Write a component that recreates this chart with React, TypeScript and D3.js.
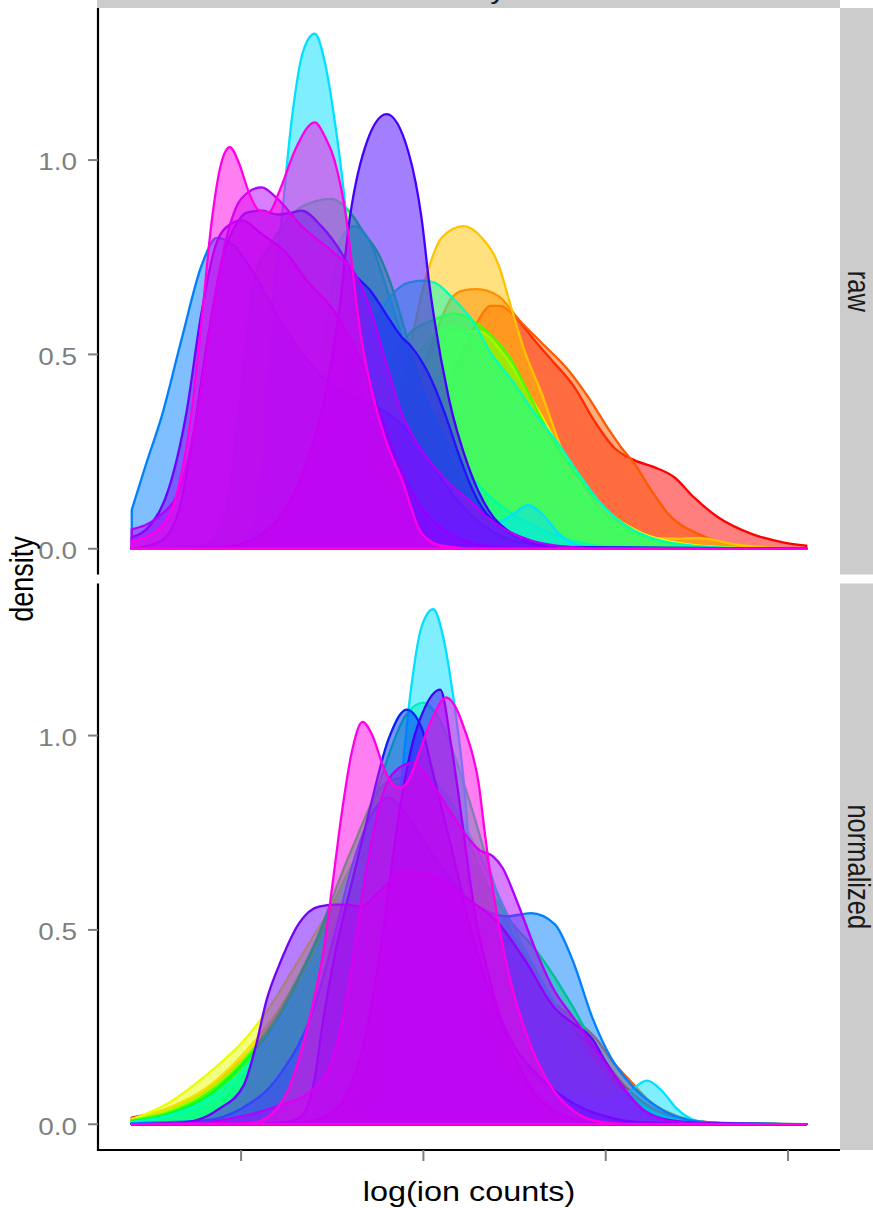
import React from "react";
import * as d3 from "d3";

type Pt = [number, number];

// one colour per sample (rainbow order, drawn in this order)
const sampleColors = [
  "#FF0000", "#FF5A00", "#FFC400", "#E8FF00", "#A0FF00", "#48FF00", "#00FF30", "#00FF80",
  "#00FFBB", "#00E0FF", "#0080FF", "#0022FF", "#4400FF", "#7000FF", "#B000FF", "#FF00E6",
];

const xTicks = [5, 10, 15, 20];
const yTicks = [0, 0.5, 1.0];
const columnLabel = "study";
const rowLabels = ["raw", "normalized"];
const xTitle = "log(ion counts)";
const yTitle = "density";

// density curves: [log(ion counts), density]
const rawDensities: Pt[][] = [
  [[2,0],[6.5,0.002],[7.5,0.01],[8.5,0.05],[9.4,0.15],[10.2,0.3],[10.8,0.45],[11.4,0.57],[11.85,0.625],[12.1,0.625],[12.41,0.607],[13.04,0.537],[13.51,0.486],[14.14,0.416],[14.68,0.33],[15.23,0.26],[15.78,0.228],[16.33,0.21],[16.88,0.184],[17.42,0.132],[18.08,0.081],[18.98,0.039],[19.89,0.016],[20.5,0.008]],
  [[2,0],[7,0.002],[7.8,0.01],[8.6,0.06],[9.2,0.18],[9.6,0.32],[10,0.46],[10.4,0.57],[10.77,0.645],[11.1,0.665],[11.46,0.668],[12.06,0.65],[12.61,0.59],[13.24,0.53],[13.97,0.46],[14.52,0.39],[15.06,0.31],[15.43,0.26],[15.78,0.22],[16.25,0.15],[16.71,0.09],[17.61,0.035],[18.52,0.01],[19.5,0.002],[20.5,0]],
  [[2,0],[7.5,0.005],[8.5,0.08],[9.2,0.3],[9.7,0.55],[10.14,0.72],[10.5,0.8],[11.1,0.83],[11.6,0.8],[12.06,0.73],[12.41,0.62],[12.77,0.51],[13.24,0.4],[13.78,0.26],[14.33,0.16],[14.87,0.09],[15.6,0.04],[16.2,0.027],[17,0.026],[17.6,0.027],[18.5,0.012],[19.5,0.003],[20.5,0]],
  [[2,0],[7,0.005],[8,0.05],[9,0.22],[10,0.45],[10.8,0.55],[11.5,0.56],[12.2,0.5],[13,0.38],[14,0.22],[15,0.1],[16,0.04],[17,0.015],[18.5,0.003],[20.5,0]],
  [[2,0],[6,0.005],[7,0.04],[8,0.15],[9,0.35],[10,0.52],[10.8,0.57],[11.5,0.53],[12.3,0.43],[13.2,0.3],[14,0.18],[15,0.08],[16,0.03],[17,0.01],[18.5,0.002],[20.5,0]],
  [[2,0],[5,0.01],[6.5,0.05],[7.5,0.15],[8.5,0.35],[9.4,0.53],[10.3,0.59],[10.85,0.605],[11.6,0.57],[12.41,0.486],[12.88,0.4],[13.43,0.3],[13.97,0.22],[14.52,0.15],[15.15,0.09],[15.78,0.047],[16.5,0.02],[17.5,0.006],[18.5,0.001],[20.5,0]],
  [[2,0],[4,0.01],[4.6,0.1],[5,0.4],[5.38,0.7],[5.8,0.78],[6.3,0.85],[6.66,0.88],[7.48,0.9],[7.95,0.87],[8.39,0.81],[8.76,0.76],[9.13,0.675],[9.5,0.56],[9.9,0.43],[10.4,0.3],[11,0.18],[11.7,0.09],[12.5,0.035],[13.5,0.01],[15,0.002],[20.5,0]],
  [[2,0],[5,0.005],[6,0.05],[6.7,0.25],[7.3,0.55],[7.76,0.8],[8.11,0.83],[8.58,0.78],[8.99,0.67],[9.4,0.55],[9.9,0.42],[10.5,0.3],[11.2,0.2],[12,0.12],[12.8,0.07],[13.6,0.035],[14.5,0.012],[15.5,0.003],[20.5,0]],
  [[2,0],[5,0.005],[6,0.04],[7,0.15],[7.8,0.35],[8.5,0.55],[9.1,0.65],[9.6,0.685],[10,0.69],[10.3,0.685],[10.85,0.64],[11.32,0.59],[11.87,0.5],[12.41,0.435],[13.04,0.35],[13.7,0.27],[14.25,0.194],[14.79,0.125],[15.34,0.073],[16.17,0.03],[17.2,0.01],[18.5,0.002],[20.5,0]],
  [[2,0],[4.8,0.003],[5.3,0.05],[5.6,0.25],[5.92,0.675],[6.11,0.847],[6.39,1.105],[6.7,1.28],[7.02,1.325],[7.3,1.25],[7.56,1.105],[7.89,0.847],[8.03,0.675],[8.3,0.4],[8.7,0.2],[9.2,0.12],[10,0.09],[11,0.07],[11.8,0.06],[12.4,0.085],[12.88,0.112],[13.3,0.085],[13.7,0.04],[14.2,0.01],[14.8,0.002],[20.5,0]],
  [[2,0.1],[2.4,0.22],[2.82,0.34],[3.37,0.54],[3.92,0.73],[4.33,0.8],[4.8,0.78],[5.4,0.7],[6,0.6],[6.7,0.5],[7.5,0.42],[8.3,0.38],[9,0.35],[9.6,0.3],[10.2,0.22],[10.8,0.14],[11.5,0.07],[12.2,0.03],[13,0.01],[14,0.002],[20.5,0]],
  [[2,0],[2.8,0.02],[3.3,0.1],[3.7,0.3],[4.1,0.55],[4.5,0.75],[4.9,0.84],[5.15,0.865],[5.56,0.87],[6,0.86],[6.4,0.865],[6.66,0.87],[7.2,0.83],[7.76,0.76],[8,0.72],[8.58,0.66],[9,0.6],[9.4,0.545],[9.67,0.52],[10.14,0.45],[10.58,0.35],[10.96,0.245],[11.24,0.175],[11.6,0.107],[12.14,0.055],[12.8,0.02],[13.5,0.005],[20.5,0]],
  [[2,0],[4.5,0.005],[5.6,0.04],[6.2,0.1],[6.75,0.21],[7.3,0.39],[7.7,0.62],[7.95,0.83],[8.39,1.03],[8.99,1.118],[9.59,1.02],[9.95,0.85],[10.17,0.675],[10.3,0.59],[10.69,0.39],[11.24,0.21],[11.78,0.1],[12.41,0.04],[13.04,0.014],[14,0.003],[20.5,0]],
  [[2,0.03],[2.5,0.06],[3,0.15],[3.5,0.35],[3.9,0.6],[4.3,0.78],[4.7,0.835],[5.02,0.845],[5.56,0.81],[6.25,0.76],[6.8,0.69],[7.56,0.61],[8.2,0.5],[8.8,0.35],[9.4,0.2],[10,0.1],[10.7,0.04],[11.5,0.012],[12.5,0.003],[20.5,0]],
  [[2,0.05],[2.7,0.08],[3.3,0.15],[3.8,0.35],[4.2,0.6],[4.6,0.8],[5,0.9],[5.56,0.93],[6,0.9],[6.66,0.83],[7.56,0.76],[8.11,0.71],[8.6,0.6],[9,0.47],[9.4,0.35],[9.9,0.26],[10.3,0.21],[10.8,0.16],[11.24,0.125],[11.7,0.085],[12.14,0.055],[13,0.02],[14,0.005],[15,0.001],[20.5,0]],
  [[2,0.02],[2.74,0.05],[3.26,0.15],[3.64,0.35],[3.92,0.59],[4.19,0.84],[4.45,0.99],[4.69,1.033],[4.95,0.99],[5.2,0.92],[5.5,0.87],[5.76,0.866],[6.05,0.92],[6.5,1.03],[7.02,1.097],[7.3,1.06],[7.56,1],[7.89,0.847],[8.11,0.675],[8.22,0.59],[8.6,0.4],[9,0.27],[9.4,0.18],[9.95,0.04],[10.5,0.008],[11.5,0],[20.5,0]],
];

const normalizedDensities: Pt[][] = [
  [[2,0.017],[3,0.04],[4,0.085],[5,0.16],[6,0.27],[7,0.4],[8,0.52],[9,0.6],[10,0.63],[11,0.58],[12,0.47],[13,0.35],[14,0.25],[14.74,0.19],[15.5,0.1],[16.3,0.04],[17.2,0.012],[18.5,0.002],[20.5,0]],
  [[2,0.015],[3,0.04],[4,0.085],[5,0.165],[6,0.27],[7,0.41],[8,0.55],[9,0.64],[10,0.66],[11,0.6],[12,0.48],[13,0.36],[14,0.28],[14.74,0.22],[15.2,0.16],[15.64,0.115],[16.2,0.06],[17,0.02],[18,0.004],[20.5,0]],
  [[2,0.014],[3,0.042],[4,0.09],[5,0.175],[6,0.29],[7,0.45],[8,0.62],[9,0.74],[10,0.76],[11,0.66],[12,0.5],[13,0.33],[14,0.19],[15,0.09],[16,0.035],[17,0.01],[18.5,0.002],[20.5,0]],
  [[2,0.013],[2.47,0.03],[3.1,0.06],[3.76,0.105],[4.4,0.155],[5.07,0.215],[5.7,0.29],[6.5,0.41],[7.5,0.56],[8.5,0.68],[9.5,0.74],[10.5,0.7],[11.5,0.58],[12.5,0.42],[13.5,0.27],[14.5,0.14],[15.5,0.06],[16.5,0.02],[17.5,0.005],[20.5,0]],
  [[2,0.011],[3,0.035],[4,0.08],[5,0.16],[6,0.28],[7,0.45],[8,0.64],[9,0.76],[10,0.78],[11,0.69],[12,0.54],[13,0.38],[14,0.23],[15,0.11],[16,0.04],[17,0.012],[18.5,0.002],[20.5,0]],
  [[2,0.01],[3,0.03],[4,0.075],[5,0.155],[6,0.28],[7,0.46],[8,0.66],[9,0.8],[10,0.82],[11,0.72],[12,0.56],[13,0.4],[14,0.25],[15,0.12],[16,0.045],[17,0.012],[18.5,0.002],[20.5,0]],
  [[2,0.008],[3,0.026],[4,0.068],[5,0.15],[6,0.27],[7,0.46],[8,0.7],[9,0.88],[10,0.9],[11,0.78],[11.78,0.61],[12.41,0.52],[13.07,0.45],[13.59,0.38],[14.11,0.3],[15,0.15],[16,0.05],[17,0.012],[18.5,0.002],[20.5,0]],
  [[2,0.005],[3,0.018],[4,0.05],[5,0.12],[6,0.24],[7,0.4],[8,0.62],[8.8,0.88],[9.5,1.05],[10,1.085],[10.5,1.03],[11.2,0.85],[12,0.6],[12.8,0.4],[13.6,0.25],[14.5,0.13],[15.5,0.05],[16.5,0.015],[18,0.002],[20.5,0]],
  [[2,0.006],[3,0.022],[4,0.06],[5,0.135],[6,0.26],[7,0.43],[8,0.65],[9,0.84],[9.8,0.9],[10.6,0.85],[11.5,0.7],[12.4,0.52],[13.3,0.36],[14.2,0.22],[15,0.12],[15.8,0.055],[16.6,0.02],[17.5,0.005],[20.5,0]],
  [[2,0],[8.05,0.003],[8.55,0.05],[8.85,0.25],[9.17,0.675],[9.36,0.847],[9.64,1.105],[9.95,1.28],[10.27,1.325],[10.55,1.25],[10.81,1.105],[11.14,0.847],[11.28,0.675],[11.55,0.4],[11.95,0.2],[12.45,0.12],[13.25,0.09],[14.25,0.07],[15.05,0.06],[15.65,0.085],[16.13,0.112],[16.55,0.085],[16.95,0.04],[17.45,0.01],[18.05,0.002],[20.5,0]],
  [[2,0.003],[4,0.01],[5,0.04],[6,0.12],[7,0.3],[7.6,0.5],[8.03,0.66],[8.6,0.8],[9.04,0.84],[9.5,0.8],[10.2,0.7],[11,0.6],[11.7,0.55],[12.3,0.535],[12.95,0.543],[13.6,0.515],[14.1,0.42],[14.63,0.275],[15.15,0.17],[15.67,0.104],[16.43,0.043],[17.34,0.01],[18.5,0.002],[20.5,0]],
  [[2,0],[6,0.003],[6.61,0.017],[6.99,0.104],[7.26,0.275],[7.6,0.45],[8.03,0.62],[8.5,0.8],[9.04,0.99],[9.54,1.067],[9.95,1.02],[10.22,0.92],[10.8,0.7],[11.3,0.5],[11.9,0.32],[12.5,0.2],[13.2,0.12],[14,0.06],[15,0.02],[16,0.005],[20.5,0]],
  [[2,0],[6.5,0.004],[7.3,0.02],[7.9,0.08],[8.4,0.22],[8.9,0.5],[9.3,0.78],[9.7,0.98],[10.03,1.07],[10.46,1.118],[10.77,0.97],[10.96,0.85],[11.2,0.68],[11.4,0.55],[11.8,0.38],[12.3,0.22],[12.9,0.1],[13.5,0.04],[14.2,0.012],[15,0.002],[20.5,0]],
  [[2,0],[3.2,0.003],[3.76,0.01],[4.4,0.04],[5.07,0.1],[5.4,0.2],[5.7,0.32],[6.09,0.42],[6.61,0.52],[7.13,0.56],[7.6,0.565],[7.89,0.565],[8.3,0.56],[8.8,0.6],[9.5,0.65],[10.3,0.64],[11.2,0.58],[12.03,0.52],[12.8,0.42],[13.59,0.3],[14.1,0.26],[14.63,0.22],[15,0.16],[15.4,0.104],[16.06,0.035],[16.8,0.01],[18,0.002],[20.5,0]],
  [[2,0],[4,0.005],[5,0.02],[6.1,0.05],[6.84,0.08],[7.44,0.15],[7.94,0.35],[8.34,0.6],[8.74,0.8],[9.14,0.9],[9.7,0.93],[10.2,0.88],[10.77,0.8],[11.2,0.74],[11.54,0.705],[11.9,0.69],[12.17,0.66],[12.55,0.577],[13.07,0.45],[13.59,0.344],[14.11,0.275],[14.74,0.19],[15.4,0.104],[16.06,0.035],[16.8,0.008],[18,0.001],[20.5,0]],
  [[2,0],[5.2,0.002],[5.7,0.017],[6.36,0.104],[6.88,0.275],[7.26,0.447],[7.51,0.62],[7.76,0.8],[8.03,0.955],[8.33,1.035],[8.6,1],[8.9,0.92],[9.15,0.875],[9.38,0.866],[9.62,0.89],[9.86,0.95],[10.22,1.04],[10.63,1.098],[10.9,1.07],[11.13,1.015],[11.35,0.95],[11.51,0.88],[11.67,0.76],[11.78,0.68],[12.03,0.533],[12.41,0.36],[12.82,0.233],[13.45,0.104],[14.11,0.035],[14.75,0.008],[15.5,0.001],[20.5,0]],
];

const W = 873;
const H = 1208;
const panelLeft = 98;
const panelRight = 840;
const panelBoxes = [
  { top: 8, bottom: 574.5 },
  { top: 583.5, bottom: 1150 },
];
const SX = 1.2; // horizontal stretch of the lettering
const FONT = "'Liberation Sans', Arial, Helvetica, sans-serif";

export default function App() {
  const panelData = [rawDensities, normalizedDensities];
  const flatPts: Pt[] = ([] as Pt[]).concat(...panelData.map((p) => ([] as Pt[]).concat(...p)));
  const [xMin, xMax] = d3.extent(flatPts, (p) => p[0]) as [number, number];
  const yMax = d3.max(flatPts, (p) => p[1]) as number;
  const xPad = (xMax - xMin) * 0.05;
  const yPad = yMax * 0.05;

  const x = d3.scaleLinear().domain([xMin - xPad, xMax + xPad]).range([panelLeft, panelRight]);
  const fmt = d3.format(".1f");

  return (
    <svg
      width={W}
      height={H}
      viewBox={`0 0 ${W} ${H}`}
      style={{ position: "absolute", left: 0, top: 0, display: "block", background: "#fff" }}
      fontFamily={FONT}
    >
      <rect x={0} y={0} width={W} height={H} fill="#ffffff" />
      {/* column strip (top, mostly cut off) */}
      <rect x={panelLeft - 1} y={-30} width={panelRight - panelLeft + 1} height={38} fill="#CCCCCC" />
      <text
        transform={`translate(${(panelLeft + panelRight) / 2},-1.5) scale(${SX},1)`}
        textAnchor="middle"
        fontSize={25.5}
        fill="#1A1A1A"
      >
        {columnLabel}
      </text>

      {panelBoxes.map((box, pi) => {
        const y = d3.scaleLinear().domain([-yPad, yMax + yPad]).range([box.bottom, box.top]);
        const area = d3
          .area<Pt>()
          .x((p) => x(p[0]))
          .y0(y(0))
          .y1((p) => y(Math.max(0, p[1])))
          .curve(d3.curveMonotoneX);
        const clipId = `clip-${pi}`;
        return (
          <g key={pi}>
            <defs>
              <clipPath id={clipId}>
                <rect x={panelLeft} y={box.top} width={panelRight - panelLeft} height={box.bottom - box.top} />
              </clipPath>
            </defs>
            <g clipPath={`url(#${clipId})`}>
              {panelData[pi].map((series, si) => (
                <path
                  key={si}
                  d={area(series) || ""}
                  fill={sampleColors[si]}
                  fillOpacity={0.5}
                  stroke={sampleColors[si]}
                  strokeWidth={2.3}
                  strokeLinejoin="round"
                />
              ))}
            </g>
            {/* right strip */}
            <rect x={panelRight} y={box.top} width={W - panelRight} height={box.bottom - box.top} fill="#CCCCCC" />
            <text
              transform={`translate(848,${(box.top + box.bottom) / 2}) scale(${SX},1) rotate(90)`}
              textAnchor="middle"
              fontSize={25.5}
              fill="#1A1A1A"
            >
              {rowLabels[pi]}
            </text>
            {/* y axis */}
            <line x1={panelLeft} x2={panelLeft} y1={box.top} y2={box.bottom} stroke="#000" strokeWidth={2.2} />
            {yTicks.map((t) => (
              <g key={t}>
                <line x1={panelLeft - 10} x2={panelLeft} y1={y(t)} y2={y(t)} stroke="#7F7F7F" strokeWidth={2} />
                <text
                  transform={`translate(77,${y(t) + 10.3}) scale(${SX},1)`}
                  textAnchor="end"
                  fontSize={23.3}
                  fill="#7F7F7F"
                >
                  {fmt(t)}
                </text>
              </g>
            ))}
          </g>
        );
      })}

      {/* x axis (bottom panel only) */}
      <line
        x1={panelLeft - 1.1}
        x2={panelRight}
        y1={panelBoxes[1].bottom}
        y2={panelBoxes[1].bottom}
        stroke="#000"
        strokeWidth={2.2}
      />
      {xTicks.map((t) => (
        <line
          key={t}
          x1={x(t)}
          x2={x(t)}
          y1={panelBoxes[1].bottom}
          y2={panelBoxes[1].bottom + 11}
          stroke="#7F7F7F"
          strokeWidth={2}
        />
      ))}

      <text
        transform={`translate(${(panelLeft + panelRight) / 2},1200.5) scale(${SX},1)`}
        textAnchor="middle"
        fontSize={27}
        fill="#000"
      >
        {xTitle}
      </text>
      <text
        transform={`translate(32.7,${(panelBoxes[0].top + panelBoxes[1].bottom) / 2}) scale(${SX},1) rotate(-90)`}
        textAnchor="middle"
        fontSize={27}
        fill="#000"
      >
        {yTitle}
      </text>
    </svg>
  );
}
